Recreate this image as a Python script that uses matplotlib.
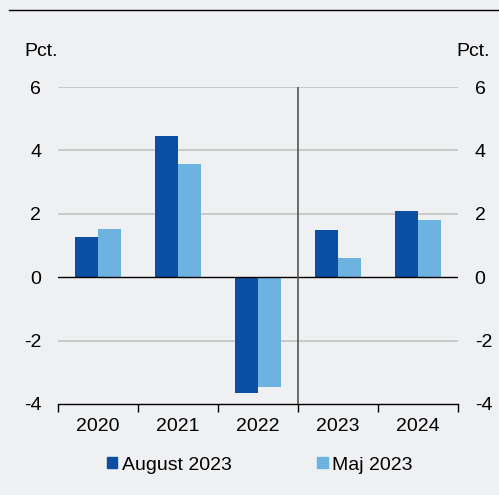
import numpy as np
import matplotlib
matplotlib.use("Agg")
import matplotlib.pyplot as plt
from matplotlib.patches import Patch
from matplotlib.lines import Line2D

# data
years = ["2020", "2021", "2022", "2023", "2024"]
august = [1.27, 4.45, -3.65, 1.48, 2.1]
maj = [1.52, 3.58, -3.46, 0.6, 1.8]
series_names = ["August 2023", "Maj 2023"]
yticks = [-4, -2, 0, 2, 4, 6]

# styles
bg = "#eff0f2"
dark = "#0b4ea2"
light = "#6db3e2"
plt.rcParams["font.family"] = ["Liberation Sans", "DejaVu Sans"]
plt.rcParams["font.size"] = 14

fig = plt.figure(figsize=(4.99, 4.95), dpi=100, facecolor=bg)
ax = fig.add_axes([58 / 499, 1 - 404 / 495, 400 / 499, 317 / 495])
ax.set_facecolor(bg)

x = np.arange(len(years))
w = 0.2875
ax.bar(x - w / 2, august, w, color=dark, zorder=3)
ax.bar(x + w / 2, maj, w, color=light, zorder=3)

ax.set_xlim(-0.5, len(years) - 0.5)
ax.set_ylim(-4, 6)

# grid
for v in yticks:
    if v in (0, -4):
        continue
    ax.axhline(v, color="#c6c6c6", lw=1.3, zorder=1)
ax.axhline(0, color="black", lw=1, zorder=4)
ax.axvline(2.5, color="#555555", lw=1.2, zorder=4)

for s in ["top", "left", "right"]:
    ax.spines[s].set_visible(False)
ax.spines["bottom"].set_linewidth(1)

ax.set_xticks(np.arange(-0.5, len(years), 1))
ax.set_xticklabels([])
ax.set_xticks(x, minor=True)
ax.set_xticklabels(years, minor=True)
ax.tick_params(axis="x", which="major", length=6, width=1, direction="out")
ax.tick_params(axis="x", which="minor", length=0, pad=10)

ax.set_yticks(yticks)
ax.set_yticklabels([str(v) for v in yticks])
ax.tick_params(axis="y", length=0, pad=12)

ax2 = ax.twinx()
ax2.set_ylim(-4, 6)
ax2.set_yticks(yticks)
ax2.set_yticklabels([str(v) for v in yticks])
ax2.tick_params(axis="y", length=0, pad=12)
for s in ax2.spines.values():
    s.set_visible(False)

fig.text(24 / 499, 1 - 51 / 495, "Pct.", ha="left", va="center")
fig.text(490 / 499, 1 - 51 / 495, "Pct.", ha="right", va="center")

# top border line
fig.add_artist(Line2D([9 / 499, 1], [1 - 10 / 495, 1 - 10 / 495], color="black", lw=1))

handles = [Patch(color=dark), Patch(color=light)]
fig.legend(handles, series_names, loc="center left",
           bbox_to_anchor=(107 / 499, 1 - 465 / 495), ncol=2, frameon=False,
           handlelength=0.52, handleheight=0.52, handletextpad=0.25,
           columnspacing=4.4, borderpad=0, borderaxespad=0)

fig.savefig("out.png", dpi=100, facecolor=bg)
